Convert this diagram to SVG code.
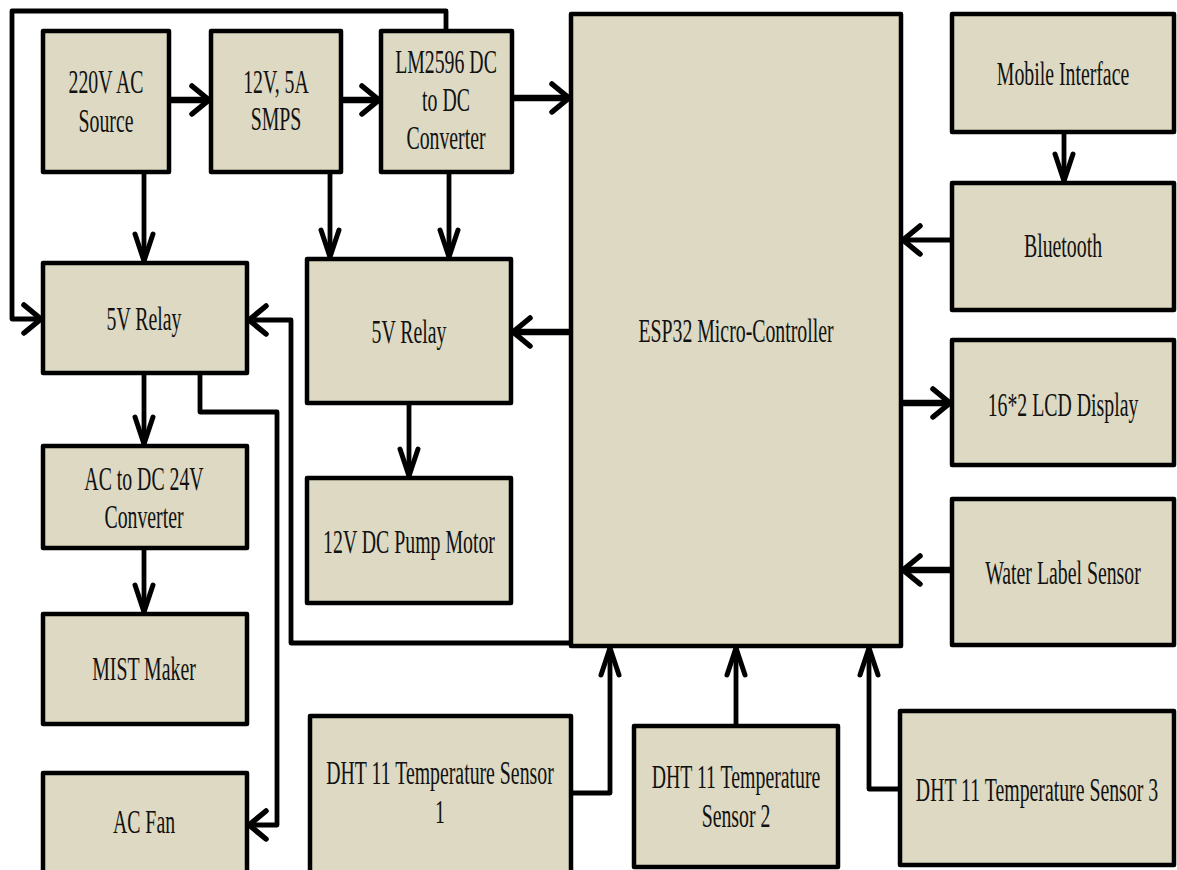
<svg xmlns="http://www.w3.org/2000/svg" width="1177" height="870" viewBox="0 0 1177 870">
<defs>
<style>
.box{fill:#DDD9C3;stroke:#000;stroke-width:4.5;stroke-linejoin:round}
.t{font-family:"Liberation Serif","Times New Roman",serif;font-size:33px;fill:#111;text-anchor:middle}
.c{fill:none;stroke:#000;stroke-width:4.8;stroke-linejoin:round}
.k{stroke-width:6.5}
</style>
<marker id="ah" markerUnits="userSpaceOnUse" viewBox="-30 -20 40 40" markerWidth="40" markerHeight="40" refX="0" refY="0" orient="auto" overflow="visible">
<path d="M-17,-14 L0,0 L-17,14" fill="none" stroke="#000" stroke-width="5.5" stroke-linecap="round" stroke-linejoin="round"/>
</marker>
<marker id="av" markerUnits="userSpaceOnUse" viewBox="-40 -20 50 40" markerWidth="50" markerHeight="40" refX="0" refY="0" orient="auto" overflow="visible">
<path d="M-27,-9 L0,0 L-27,9" fill="none" stroke="#000" stroke-width="5" stroke-linecap="round" stroke-linejoin="round"/>
</marker>
</defs>
<rect width="1177" height="870" fill="#fff"/>

<g id="connectors">
<polyline class="c" points="446,31 446,11 12,11 12,319 41,319" marker-end="url(#ah)"/>
<line class="c k" x1="169" y1="100" x2="209" y2="100" marker-end="url(#ah)"/>
<line class="c k" x1="341" y1="100" x2="379" y2="100" marker-end="url(#ah)"/>
<line class="c k" x1="512" y1="98" x2="569" y2="98" marker-end="url(#ah)"/>
<line class="c" x1="144" y1="172" x2="144" y2="261" marker-end="url(#av)"/>
<line class="c" x1="330" y1="172" x2="330" y2="257" marker-end="url(#av)"/>
<line class="c" x1="449" y1="172" x2="449" y2="257" marker-end="url(#av)"/>
<line class="c" x1="144" y1="373" x2="144" y2="444" marker-end="url(#av)"/>
<line class="c" x1="144" y1="548" x2="144" y2="612" marker-end="url(#av)"/>
<line class="c" x1="409" y1="403" x2="409" y2="476" marker-end="url(#av)"/>
<line class="c k" x1="571" y1="332" x2="513" y2="332" marker-end="url(#ah)"/>
<polyline class="c" points="571,643 291,643 291,320 249,320" marker-end="url(#ah)"/>
<polyline class="c" points="200,373 200,412 277,412 277,825 249,825" marker-end="url(#ah)"/>
<line class="c" x1="952" y1="240" x2="903" y2="240" marker-end="url(#ah)"/>
<line class="c" x1="1064" y1="132" x2="1064" y2="181" marker-end="url(#av)"/>
<line class="c k" x1="901" y1="403" x2="950" y2="403" marker-end="url(#ah)"/>
<line class="c k" x1="952" y1="570" x2="903" y2="570" marker-end="url(#ah)"/>
<polyline class="c" points="571,793 610,793 610,648" marker-end="url(#av)"/>
<line class="c" x1="736" y1="726" x2="736" y2="648" marker-end="url(#av)"/>
<polyline class="c" points="900,789 869,789 869,648" marker-end="url(#av)"/>
</g>

<g id="source">
<rect class="box" x="43" y="31" width="126" height="141"/>
<text class="t" transform="translate(106,93) scale(0.6,1)">220V AC</text>
<text class="t" transform="translate(106,132) scale(0.6,1)">Source</text>
</g>
<g id="smps">
<rect class="box" x="211" y="31" width="130" height="141"/>
<text class="t" transform="translate(276,93) scale(0.6,1)">12V, 5A</text>
<text class="t" transform="translate(276,130) scale(0.6,1)">SMPS</text>
</g>
<g id="lm2596">
<rect class="box" x="381" y="31" width="131" height="141"/>
<text class="t" transform="translate(446,73) scale(0.6,1)">LM2596 DC</text>
<text class="t" transform="translate(446,111) scale(0.6,1)">to DC</text>
<text class="t" transform="translate(446,149) scale(0.6,1)">Converter</text>
</g>
<g id="esp32">
<rect class="box" x="571" y="14" width="330" height="632"/>
<text class="t" transform="translate(736,342) scale(0.6,1)">ESP32 Micro-Controller</text>
</g>
<g id="mobile">
<rect class="box" x="952" y="14" width="222" height="118"/>
<text class="t" transform="translate(1063,85) scale(0.6,1)">Mobile Interface</text>
</g>
<g id="bluetooth">
<rect class="box" x="952" y="183" width="222" height="127"/>
<text class="t" transform="translate(1063,257) scale(0.6,1)">Bluetooth</text>
</g>
<g id="lcd">
<rect class="box" x="952" y="340" width="222" height="125"/>
<text class="t" transform="translate(1063,416) scale(0.6,1)">16*2 LCD Display</text>
</g>
<g id="water">
<rect class="box" x="952" y="499" width="222" height="146"/>
<text class="t" transform="translate(1063,584) scale(0.6,1)">Water Label Sensor</text>
</g>
<g id="relay1">
<rect class="box" x="43" y="263" width="204" height="110"/>
<text class="t" transform="translate(144,330) scale(0.6,1)">5V Relay</text>
</g>
<g id="relay2">
<rect class="box" x="307" y="259" width="204" height="144"/>
<text class="t" transform="translate(409,343) scale(0.6,1)">5V Relay</text>
</g>
<g id="acdc">
<rect class="box" x="43" y="446" width="204" height="102"/>
<text class="t" transform="translate(144,490) scale(0.6,1)">AC to DC 24V</text>
<text class="t" transform="translate(144,528) scale(0.6,1)">Converter</text>
</g>
<g id="pump">
<rect class="box" x="307" y="478" width="204" height="125"/>
<text class="t" transform="translate(409,553) scale(0.6,1)">12V DC Pump Motor</text>
</g>
<g id="mist">
<rect class="box" x="43" y="614" width="204" height="110"/>
<text class="t" transform="translate(144,680) scale(0.6,1)">MIST Maker</text>
</g>
<g id="fan">
<rect class="box" x="43" y="773" width="204" height="110"/>
<text class="t" transform="translate(144,833) scale(0.6,1)">AC Fan</text>
</g>
<g id="dht1">
<rect class="box" x="310" y="716" width="261" height="170"/>
<text class="t" transform="translate(440,784) scale(0.6,1)">DHT 11 Temperature Sensor</text>
<text class="t" transform="translate(440,823) scale(0.6,1)">1</text>
</g>
<g id="dht2">
<rect class="box" x="634" y="726" width="204" height="141"/>
<text class="t" transform="translate(736,788) scale(0.6,1)">DHT 11 Temperature</text>
<text class="t" transform="translate(736,827) scale(0.6,1)">Sensor 2</text>
</g>
<g id="dht3">
<rect class="box" x="900" y="711" width="274" height="154"/>
<text class="t" transform="translate(1037,801) scale(0.6,1)">DHT 11 Temperature Sensor 3</text>
</g>
</svg>
